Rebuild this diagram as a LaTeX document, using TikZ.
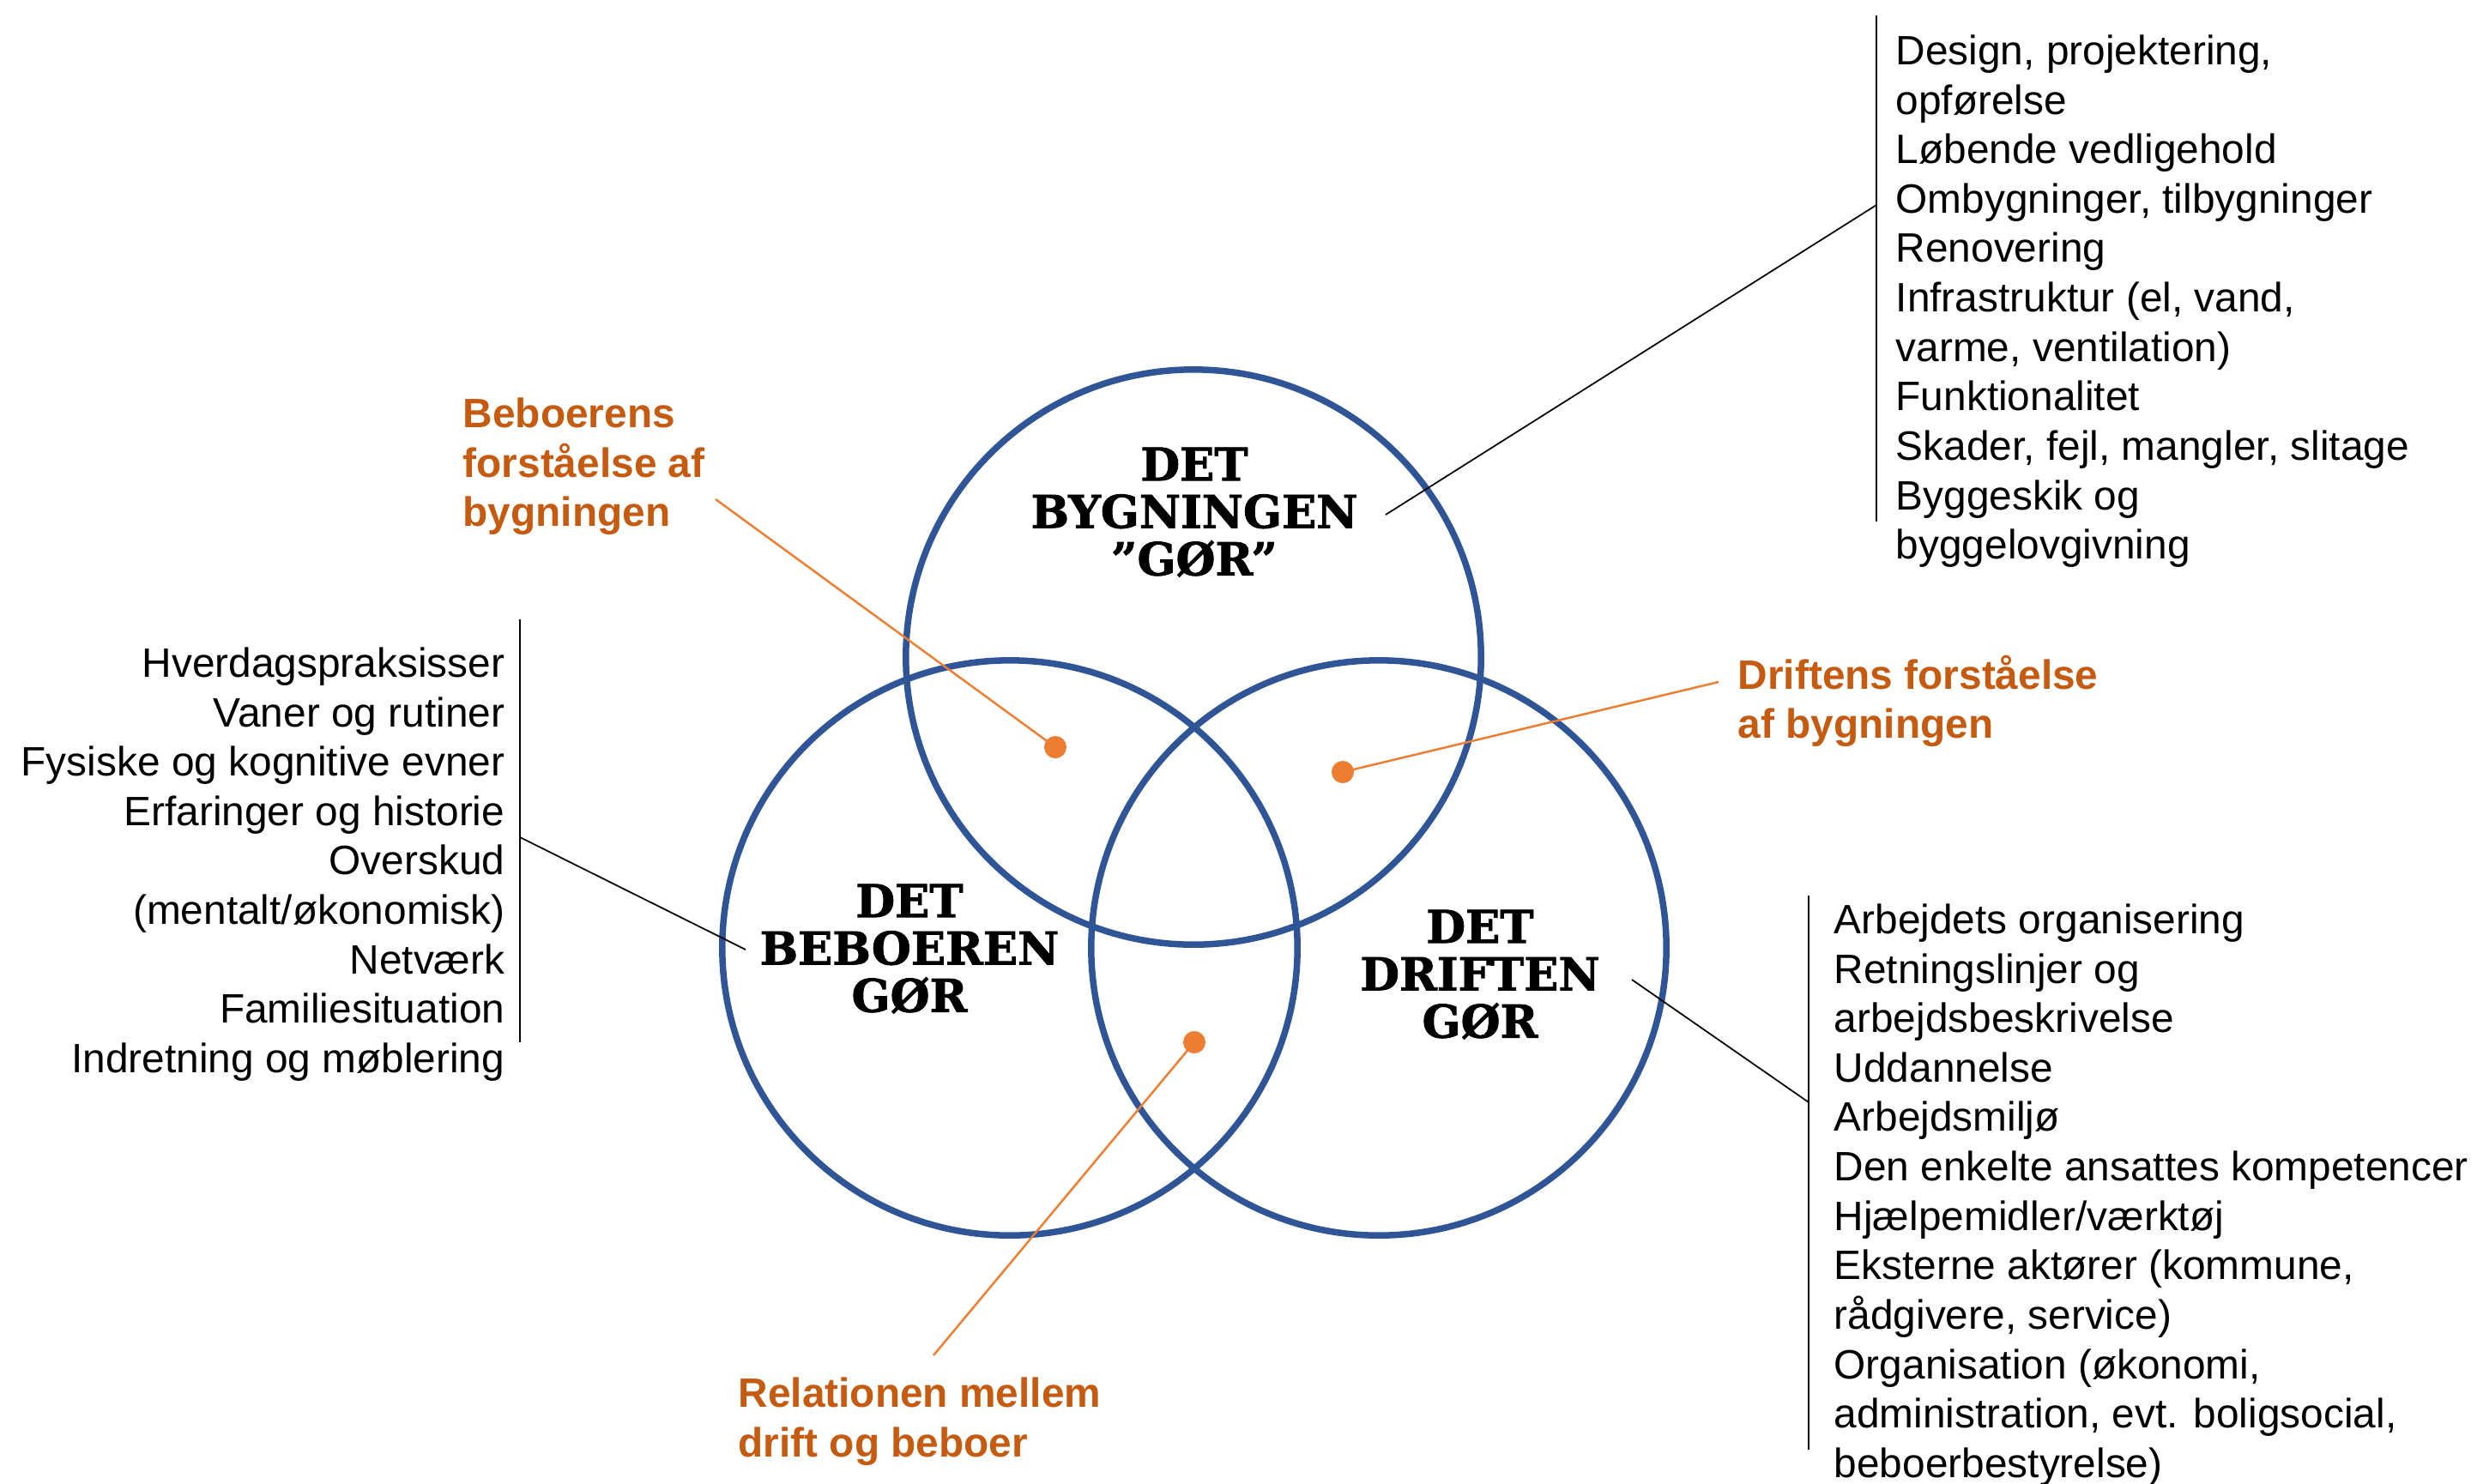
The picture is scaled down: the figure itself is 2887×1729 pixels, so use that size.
\documentclass[tikz,border=0pt]{standalone}
\usepackage{fontspec}
\setmainfont{Liberation Sans}
\newfontfamily\slab[BoldFeatures={FakeBold=1.6}]{DejaVu Serif}
\definecolor{vennblue}{HTML}{2F5597}
\definecolor{linkorange}{HTML}{ED7D31}
\definecolor{labelorange}{HTML}{C55A11}
\begin{document}
\begin{tikzpicture}[x=0.01cm,y=-0.01cm,
  venn/.style={draw=vennblue, line width=0.075cm, circle, minimum size=6.7cm, inner sep=0pt},
  vennlabel/.style={font={\slab\bfseries\fontsize{15}{15.7}\selectfont}, align=center, inner sep=0pt, anchor=north},
  listtext/.style={font={\fontsize{13.6}{16.39}\selectfont}, inner sep=0pt},
  orangetext/.style={font={\bfseries\fontsize{13.6}{16.39}\selectfont}, text=labelorange, align=left, inner sep=0pt, anchor=north west},
  dotmark/.style={circle, fill=linkorange, minimum size=0.26cm, inner sep=0pt},
  orangeline/.style={draw=linkorange, line width=0.7pt},
  leader/.style={draw=black, line width=0.5pt}
]
\useasboundingbox (0,0) rectangle (2887,1729);

% circles
\node[venn] (ctop) at (1391,766) {};
\node[venn] (cleft) at (1177,1105) {};
\node[venn] (cright) at (1607,1105) {};

% circle labels
\node[vennlabel] (ltop) at (1392,521) {DET\\BYGNINGEN\\”GØR”};
\node[vennlabel] (lleft) at (1060,1030) {DET\\BEBOEREN\\GØR};
\node[vennlabel] (lright) at (1725,1060) {DET\\DRIFTEN\\GØR};

% lists
\node[listtext, align=left, anchor=north west] (listtop) at (2209,40) {Design, projektering,\\opførelse\\Løbende vedligehold\\Ombygninger, tilbygninger\\Renovering\\Infrastruktur (el, vand,\\varme, ventilation)\\Funktionalitet\\Skader, fejl, mangler, slitage\\Byggeskik og\\byggelovgivning};
\node[listtext, align=right, anchor=north east] (listleft) at (589,754) {Hverdagspraksisser\\Vaner og rutiner\\Fysiske og kognitive evner\\Erfaringer og historie\\Overskud\\(mentalt/økonomisk)\\Netværk\\Familiesituation\\Indretning og møblering};
\node[listtext, align=left, anchor=north west] (listright) at (2137,1053) {Arbejdets organisering\\Retningslinjer og\\arbejdsbeskrivelse\\Uddannelse\\Arbejdsmiljø\\Den enkelte ansattes kompetencer\\Hjælpemidler/værktøj\\Eksterne aktører (kommune,\\rådgivere, service)\\Organisation (økonomi,\\administration, evt. boligsocial,\\beboerbestyrelse)};

% brackets and leaders
\coordinate (bt1) at (2187,18); \coordinate (bt2) at (2187,608);
\coordinate (btj) at (2187,239); \coordinate (btf) at (1615,600);
\draw[leader] (bt1) -- (bt2);
\draw[leader] (btf) -- (btj);

\coordinate (bl1) at (606,722); \coordinate (bl2) at (606,1215);
\coordinate (blj) at (606,976); \coordinate (blf) at (869,1107);
\draw[leader] (bl1) -- (bl2);
\draw[leader] (blj) -- (blf);

\coordinate (br1) at (2108,1044); \coordinate (br2) at (2108,1690);
\coordinate (brj) at (2108,1285); \coordinate (brf) at (1902,1142);
\draw[leader] (br1) -- (br2);
\draw[leader] (brf) -- (brj);

% orange labels
\node[orangetext] (obeb) at (539,463) {Beboerens\\forståelse af\\bygningen};
\node[orangetext] (odri) at (2025,763) {Driftens forståelse\\af bygningen};
\node[orangetext] (orel) at (860,1605) {Relationen mellem\\drift og beboer};

% dots
\node[dotmark] (dbeb) at (1230,871) {};
\node[dotmark] (ddri) at (1565,900) {};
\node[dotmark] (drel) at (1392,1215) {};

\coordinate (obebend) at (834,582);
\coordinate (odriend) at (2003,795);
\coordinate (orelend) at (1088,1580);
\draw[orangeline] (obebend) -- (dbeb.center);
\draw[orangeline] (odriend) -- (ddri.center);
\draw[orangeline] (drel.center) -- (orelend);
\end{tikzpicture}
\end{document}
